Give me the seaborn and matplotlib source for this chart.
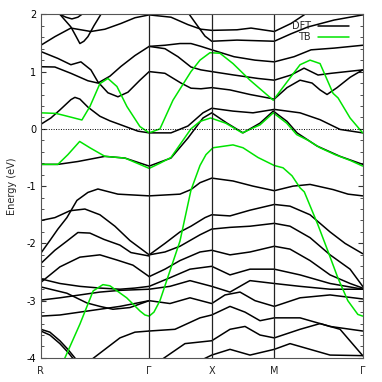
import matplotlib
matplotlib.use("Agg")
import matplotlib.pyplot as plt
from matplotlib.lines import Line2D
from matplotlib.ticker import MultipleLocator
import pandas as pd
import seaborn as sns

# high-symmetry points along the k-path (path length, units of 2pi/a)
sym_labels = ["R", "Γ", "X", "M", "Γ"]
sym_k = [0.0, 0.866, 1.366, 1.866, 2.573]

# DFT bands, (k, E) pairs
dft_01 = [(0.000, 1.46), (0.112, 1.61), (0.240, 1.76), (0.320, 1.73), (0.400, 1.70), (0.512, 1.74),
          (0.640, 1.84), (0.752, 1.94), (0.866, 1.99), (1.040, 1.95), (1.176, 1.82), (1.280, 1.74),
          (1.366, 1.72), (1.568, 1.73), (1.680, 1.76), (1.866, 1.70), (2.000, 1.84), (2.104, 1.99),
          (2.152, 2.08)]
dft_02 = [(0.112, 2.10), (0.152, 2.00), (0.200, 1.88), (0.240, 1.78), (0.280, 1.62), (0.312, 1.49),
          (0.344, 1.53), (0.376, 1.61), (0.424, 1.80), (0.480, 2.00), (0.504, 2.08)]
dft_03 = [(0.112, 2.08), (0.152, 2.00), (0.200, 1.95), (0.248, 1.92), (0.296, 1.95), (0.328, 2.00),
          (0.360, 2.08)]
dft_04 = [(0.000, 1.35), (0.136, 1.23), (0.240, 1.12), (0.320, 1.17), (0.400, 1.03), (0.456, 0.82),
          (0.536, 0.63), (0.616, 0.56), (0.696, 0.64), (0.792, 0.85), (0.866, 1.00), (0.992, 0.97),
          (1.120, 0.80), (1.200, 0.71), (1.280, 0.70), (1.366, 0.72), (1.512, 0.68), (1.672, 0.60),
          (1.866, 0.52), (1.968, 0.72), (2.072, 0.85), (2.168, 0.80), (2.232, 0.68), (2.288, 0.60),
          (2.368, 0.72), (2.472, 0.90), (2.573, 1.03)]
dft_05 = [(0.000, 1.085), (0.112, 1.08), (0.240, 0.97), (0.376, 0.84), (0.456, 0.80), (0.552, 0.92),
          (0.640, 1.09), (0.752, 1.28), (0.866, 1.44), (0.992, 1.40), (1.096, 1.26), (1.200, 1.08),
          (1.280, 1.03), (1.366, 1.00), (1.544, 0.94), (1.736, 0.88), (1.866, 0.85), (2.000, 0.94),
          (2.104, 1.06), (2.216, 0.94), (2.320, 0.97), (2.573, 1.03)]
dft_06 = [(0.866, 1.44), (0.992, 1.46), (1.112, 1.49), (1.200, 1.49), (1.280, 1.44), (1.366, 1.38),
          (1.544, 1.26), (1.712, 1.20), (1.866, 1.17), (2.024, 1.26), (2.160, 1.38), (2.344, 1.41),
          (2.573, 1.46)]
dft_07 = [(1.160, 2.08), (1.232, 1.86), (1.312, 1.62), (1.366, 1.53), (1.568, 1.55), (1.866, 1.53),
          (2.000, 1.66), (2.136, 1.78), (2.344, 1.90), (2.573, 1.99)]
dft_08 = [(1.256, 2.10), (1.312, 2.03), (1.366, 2.00), (1.424, 2.03), (1.464, 2.10)]
dft_09 = [(0.000, 0.08), (0.080, 0.19), (0.152, 0.33), (0.240, 0.51), (0.272, 0.55), (0.312, 0.52),
          (0.376, 0.38), (0.472, 0.22), (0.552, 0.14), (0.640, 0.07), (0.776, -0.04), (0.866, -0.07),
          (1.040, -0.07), (1.176, 0.05), (1.296, 0.28), (1.366, 0.36), (1.536, 0.31), (1.696, 0.28),
          (1.866, 0.34), (2.072, 0.28), (2.232, 0.16), (2.392, -0.01), (2.573, -0.07)]
dft_10 = [(0.000, -0.62), (0.136, -0.62), (0.296, -0.57), (0.512, -0.48), (0.672, -0.51), (0.866, -0.65),
          (1.040, -0.51), (1.176, -0.16), (1.296, 0.19), (1.366, 0.28), (1.488, 0.10), (1.616, -0.07),
          (1.752, 0.10), (1.858, 0.31), (1.968, 0.13), (2.048, -0.07), (2.208, -0.30), (2.392, -0.48),
          (2.573, -0.62)]
dft_11 = [(0.000, -2.17), (0.072, -1.95), (0.136, -1.75), (0.208, -1.55), (0.288, -1.25), (0.376, -1.11),
          (0.456, -1.05), (0.616, -1.14), (0.866, -1.17), (1.112, -1.14), (1.200, -1.06), (1.272, -0.94),
          (1.366, -0.86), (1.536, -0.91), (1.696, -1.00), (1.866, -1.08), (2.016, -1.00), (2.152, -0.97),
          (2.336, -1.06), (2.456, -1.14), (2.573, -1.17)]
dft_12 = [(0.000, -1.60), (0.112, -1.55), (0.232, -1.43), (0.352, -1.40), (0.472, -1.50), (0.592, -1.70),
          (0.712, -1.95), (0.866, -2.20)]
dft_13 = [(0.000, -2.35), (0.112, -2.12), (0.208, -1.96), (0.296, -1.81), (0.392, -1.82), (0.504, -1.93),
          (0.632, -2.03), (0.720, -2.16), (0.866, -2.22)]
dft_14 = [(0.000, -2.68), (0.152, -2.41), (0.312, -2.24), (0.472, -2.20), (0.608, -2.29), (0.736, -2.38),
          (0.866, -2.58)]
dft_15 = [(0.000, -2.76), (0.208, -2.87), (0.368, -3.04), (0.472, -3.10), (0.576, -3.15), (0.712, -3.12),
          (0.866, -3.00)]
dft_16 = [(0.000, -2.62), (0.152, -2.70), (0.312, -2.75), (0.472, -2.78), (0.632, -2.80), (0.752, -2.78),
          (0.866, -2.75)]
dft_17 = [(0.000, -2.99), (0.152, -2.95), (0.312, -2.90), (0.472, -2.85), (0.632, -2.82), (0.866, -2.80)]
dft_18 = [(0.000, -3.27), (0.152, -3.25), (0.312, -3.20), (0.472, -3.15), (0.632, -3.10), (0.866, -3.00)]
dft_19 = [(0.000, -3.50), (0.072, -3.55), (0.152, -3.70), (0.216, -3.85), (0.272, -4.00), (0.312, -4.10)]
dft_20 = [(0.000, -3.53), (0.072, -3.60), (0.152, -3.75), (0.216, -3.90), (0.272, -4.05)]
dft_21 = [(0.392, -4.05), (0.512, -3.85), (0.632, -3.65), (0.752, -3.55), (0.866, -3.53)]
dft_22 = [(0.866, -2.20), (0.992, -2.00), (1.112, -1.80), (1.200, -1.70), (1.312, -1.55), (1.366, -1.50),
          (1.512, -1.52), (1.672, -1.42), (1.866, -1.32), (1.992, -1.35), (2.152, -1.50), (2.312, -1.80),
          (2.432, -2.00), (2.573, -2.18)]
dft_23 = [(0.866, -2.20), (0.992, -2.15), (1.112, -2.05), (1.272, -1.85), (1.366, -1.75), (1.512, -1.72),
          (1.672, -1.70), (1.866, -1.65), (1.992, -1.70), (2.152, -1.90), (2.312, -2.20), (2.472, -2.45),
          (2.573, -2.75)]
dft_24 = [(0.866, -2.58), (0.992, -2.45), (1.112, -2.30), (1.272, -2.15), (1.366, -2.12), (1.512, -2.20),
          (1.672, -2.15), (1.866, -2.05), (1.992, -2.10), (2.152, -2.30), (2.312, -2.55), (2.472, -2.70),
          (2.573, -2.78)]
dft_25 = [(0.866, -2.75), (1.032, -2.60), (1.192, -2.45), (1.366, -2.40), (1.512, -2.55), (1.672, -2.45),
          (1.866, -2.45), (2.072, -2.55), (2.312, -2.70), (2.573, -2.80)]
dft_26 = [(0.866, -2.80), (1.032, -2.75), (1.192, -2.65), (1.366, -2.75), (1.512, -2.85), (1.672, -2.65),
          (1.866, -2.70), (2.072, -2.75), (2.312, -2.80), (2.573, -2.80)]
dft_27 = [(0.866, -3.00), (1.032, -3.05), (1.192, -2.95), (1.366, -3.05), (1.472, -2.90), (1.592, -2.85),
          (1.712, -3.00), (1.866, -3.10), (2.072, -2.95), (2.312, -2.90), (2.573, -2.97)]
dft_28 = [(0.866, -3.53), (1.072, -3.50), (1.272, -3.30), (1.366, -3.25), (1.512, -3.10), (1.632, -3.20),
          (1.752, -3.35), (1.866, -3.30), (2.072, -3.30), (2.312, -3.45), (2.573, -3.53)]
dft_29 = [(0.952, -4.05), (1.152, -3.75), (1.366, -3.70), (1.512, -3.50), (1.632, -3.45), (1.752, -3.60),
          (1.866, -3.65), (2.072, -3.50), (2.232, -3.40), (2.392, -3.50), (2.573, -3.96)]
dft_30 = [(1.272, -4.05), (1.366, -3.95), (1.512, -3.85), (1.672, -3.95), (1.866, -3.85), (1.992, -3.75),
          (2.152, -3.85), (2.312, -3.95), (2.573, -3.96)]

# tight-binding bands
tb_01 = [(0.000, 0.28), (0.120, 0.27), (0.176, 0.24), (0.248, 0.20), (0.328, 0.155), (0.392, 0.39),
         (0.472, 0.79), (0.536, 0.88), (0.608, 0.74), (0.688, 0.39), (0.792, 0.04), (0.866, -0.07),
         (0.952, 0.00), (1.056, 0.50), (1.200, 1.00), (1.272, 1.20), (1.352, 1.33), (1.432, 1.32),
         (1.536, 1.14), (1.672, 0.85), (1.858, 0.50), (1.968, 0.82), (2.072, 1.12), (2.152, 1.20),
         (2.232, 1.14), (2.336, 0.62), (2.376, 0.54), (2.472, 0.19), (2.573, -0.07)]
tb_02 = [(0.000, -0.62), (0.136, -0.62), (0.216, -0.45), (0.310, -0.22), (0.392, -0.33), (0.512, -0.48),
         (0.672, -0.51), (0.866, -0.69), (0.952, -0.60), (1.040, -0.50), (1.120, -0.25), (1.200, 0.00),
         (1.272, 0.13), (1.357, 0.19), (1.477, 0.10), (1.610, -0.07), (1.752, 0.07), (1.858, 0.28),
         (1.965, 0.10), (2.045, -0.10), (2.136, -0.20), (2.232, -0.33), (2.352, -0.45), (2.472, -0.55),
         (2.573, -0.65)]
tb_03 = [(0.168, -4.10), (0.192, -4.00), (0.312, -3.41), (0.418, -2.83), (0.496, -2.72), (0.552, -2.74),
         (0.686, -2.95), (0.792, -3.18), (0.832, -3.25), (0.866, -3.27), (0.904, -3.20), (0.952, -3.00),
         (1.032, -2.48), (1.112, -1.96), (1.200, -1.07), (1.272, -0.64), (1.320, -0.45), (1.376, -0.33),
         (1.536, -0.28), (1.616, -0.33), (1.736, -0.50), (1.866, -0.64), (1.936, -0.68), (2.008, -0.82),
         (2.072, -1.03), (2.106, -1.10), (2.214, -1.67), (2.294, -2.13), (2.374, -2.60), (2.454, -3.00),
         (2.534, -3.24), (2.573, -3.27)]

dft_bands = [dft_01, dft_02, dft_03, dft_04, dft_05, dft_06, dft_07, dft_08, dft_09, dft_10,
             dft_11, dft_12, dft_13, dft_14, dft_15, dft_16, dft_17, dft_18, dft_19, dft_20,
             dft_21, dft_22, dft_23, dft_24, dft_25, dft_26, dft_27, dft_28, dft_29, dft_30]
tb_bands = [tb_01, tb_02, tb_03]

rows = []
for name, group in (("DFT", dft_bands), ("TB", tb_bands)):
    for i, band in enumerate(group):
        for k, e in band:
            rows.append((name, f"{name}{i}", k, e))
df = pd.DataFrame(rows, columns=["model", "band", "k", "energy"])

sns.set_style("ticks")
plt.rcParams["font.family"] = ["DejaVu Sans"]
plt.rcParams["axes.unicode_minus"] = False

fig = plt.figure(figsize=(3.82, 3.82), dpi=100)
ax = fig.add_axes([0.107, 0.063, 0.8425, 0.8995])

sns.lineplot(data=df[df.model == "DFT"], x="k", y="energy", units="band", estimator=None,
             sort=False, color="black", lw=1.1, ax=ax, legend=False)
sns.lineplot(data=df[df.model == "TB"], x="k", y="energy", units="band", estimator=None,
             sort=False, color="#00e400", lw=1.1, ax=ax, legend=False)

for k in sym_k[1:-1]:
    ax.axvline(k, color="#222222", lw=0.9)
ax.axhline(0, color="black", lw=0.7, ls=(0, (1, 1.5)))

ax.set_xlim(sym_k[0], sym_k[-1])
ax.set_ylim(-4, 2)
ax.set_xticks(sym_k, sym_labels)
ax.yaxis.set_major_locator(MultipleLocator(1))
ax.yaxis.set_minor_locator(MultipleLocator(0.2))
ax.tick_params(axis="x", length=0, labelsize=7, pad=6)
ax.tick_params(axis="y", which="both", direction="in", right=True, labelsize=7, colors="#333333",
               labelcolor="black")
ax.tick_params(axis="y", which="major", length=3.5, width=0.8)
ax.tick_params(axis="y", which="minor", length=2, width=0.6)
for s in ax.spines.values():
    s.set_color("#555555")
    s.set_linewidth(0.8)

ax.set_xlabel(None)
ax.set_ylabel("Energy (eV)", fontsize=7, labelpad=7)

handles = [Line2D([], [], color="black", lw=1.1), Line2D([], [], color="#00e400", lw=1.1)]
ax.legend(handles, ["DFT", "TB"], loc="upper right", frameon=False, markerfirst=False,
          fontsize=7, handlelength=3.2, borderaxespad=0.3, labelspacing=0.1,
          bbox_to_anchor=(0.98, 1.0))

fig.savefig("out.png", dpi=100)
